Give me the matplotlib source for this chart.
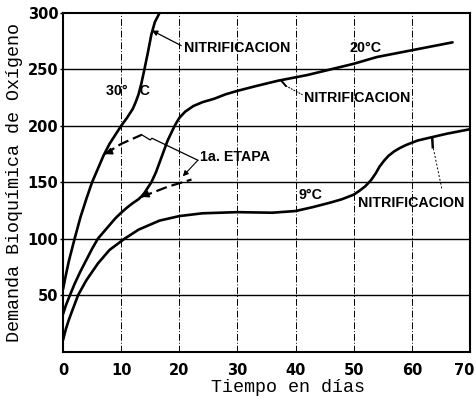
import matplotlib
matplotlib.use("Agg")
import matplotlib.pyplot as plt
from matplotlib.transforms import ScaledTranslation

# Oxygen demand curves (días, mg/l)
dias_30 = [0, 0.5, 1, 1.5, 2, 3, 4, 5, 6, 7, 8, 9, 10, 11, 12, 12.5, 13, 13.5, 14, 14.6, 15.2, 15.8, 16.6]
dbo_30 = [55, 68, 80, 90, 100, 119, 135, 150, 162, 174, 184, 192, 200, 207, 215, 221, 228, 238, 250,
          265, 281, 292, 300]

dias_20 = [0, 0.5, 1.2, 2, 3, 4, 5, 6, 7, 8, 9, 10, 11, 12, 13, 13.5, 14, 14.5, 15.2, 16, 17, 18,
           19.2, 20, 21, 22.4, 24, 26, 28, 30, 33, 37, 42, 46, 50, 54, 58, 62, 67]
dbo_20 = [33, 41, 50, 60, 71, 81, 91, 100, 106, 112, 118, 123, 127.5, 131.5, 135, 137.5, 140.5, 144.5,
          150, 159, 173, 187, 200, 207, 212.5, 217.5, 221, 224, 228, 231, 235, 240, 245, 250, 255,
          261, 265, 269, 274]

dias_9 = [0, 0.5, 1, 1.5, 2.6, 4, 6, 8, 10.6, 13, 16.6, 20, 24, 30, 36, 40, 43, 46, 48, 50, 51, 52,
          53, 53.8, 54.4, 55.2, 56, 57, 58, 59, 61, 63.5, 66, 70]
dbo_9 = [10, 20, 28, 35, 50, 63, 78, 90, 100, 108, 116, 120, 122.5, 123.5, 123, 124.5, 128, 132, 135,
         139, 142.5, 146.5, 152, 158, 163.5, 169, 173.5, 177.5, 180.5, 183, 187, 190, 193, 197]

# First-stage (carbonaceous) extrapolations
etapa1_30_x = [7.2, 10, 13.5]
etapa1_30_y = [175, 184, 192]
etapa1_20_x = [13.5, 18, 22.1]
etapa1_20_y = [137, 146, 152.4]

x_ticks = [0, 10, 20, 30, 40, 50, 60, 70]
y_ticks = [50, 100, 150, 200, 250, 300]

fig = plt.figure(figsize=(4.77, 4.04), dpi=100)
ax = fig.add_axes([63 / 477, 1 - 351.5 / 404, 407 / 477, 338.5 / 404])
ax.set_xlim(0, 70)
ax.set_ylim(0, 300)

# grid: solid horizontal, dash-dot vertical
for v in y_ticks[:-1]:
    ax.axhline(v, color="black", lw=1.0, zorder=1)
for d in x_ticks[1:-1]:
    ax.axvline(d, color="black", lw=0.7, ls=(0, (7, 2, 1, 2)), zorder=1)

lw = 1.9
for dx, dy in ((dias_30, dbo_30), (dias_20, dbo_20), (dias_9, dbo_9)):
    ax.plot(dx, dy, color="black", lw=lw, solid_capstyle="round", solid_joinstyle="round", zorder=3)

ax.plot(etapa1_30_x, etapa1_30_y, color="black", lw=1.6, ls=(0, (5, 2.2)), zorder=3)
ax.plot(etapa1_20_x, etapa1_20_y, color="black", lw=1.6, ls=(0, (5, 2.2)), zorder=3)
for ex, ey in ((etapa1_30_x, etapa1_30_y), (etapa1_20_x, etapa1_20_y)):
    ax.annotate("", xy=(ex[0], ey[0]), xytext=(ex[0] + 1.2, ey[0] + 2.6),
                arrowprops=dict(arrowstyle="-|>", color="black", lw=1.2,
                                mutation_scale=10, shrinkA=0, shrinkB=0))

lab = dict(family="Liberation Sans", fontweight="bold", fontsize=10.3, color="black")

# labels and leaders
ax.text(11.2, 230.5, "30°   C", ha="center", va="center", **lab)
ax.text(52.0, 268.6, "20°C", ha="center", va="center", **lab)
ax.text(42.5, 138.5, "9°C", ha="center", va="center", **lab)

ax.annotate("NITRIFICACION", xy=(15.3, 284.5), xytext=(20.8, 268.6), ha="left", va="center",
            arrowprops=dict(arrowstyle="-|>", color="black", lw=0.9, mutation_scale=8,
                            shrinkA=0, shrinkB=0, relpos=(0, 0.6)), **lab)

ax.text(41.4, 224.3, "NITRIFICACION", ha="left", va="center", **lab)
ax.plot([37.5, 38.3], [240.3, 235.5], color="black", lw=1.4)
ax.plot([38.3, 41.2], [235.5, 227.5], color="black", lw=0.7, ls=(0, (2, 1)))

ax.text(59.8, 131.2, "NITRIFICACION", ha="center", va="center", **lab)
ax.plot([63.5, 63.6], [189.5, 181], color="black", lw=1.8)
ax.plot([63.7, 65.2], [180, 143], color="black", lw=0.7, ls=(0, (2, 2)))

ax.text(23.5, 172, "1a. ETAPA", ha="left", va="center", **lab)
ax.plot([13.5, 15.0, 15.3, 23.2], [192.2, 187.5, 189, 169.5], color="black", lw=0.9)
ax.annotate("", xy=(20.6, 155.3), xytext=(23.2, 169.5),
            arrowprops=dict(arrowstyle="-|>", color="black", lw=0.8, mutation_scale=8,
                            shrinkA=0, shrinkB=0))

# axes styling
for s in ax.spines.values():
    s.set_linewidth(1.5)
ax.set_xticks(x_ticks)
ax.set_yticks(y_ticks)
tick_font = dict(family="DejaVu Sans", weight="bold", size=10.5)
ax.set_xticklabels([str(t) for t in x_ticks], fontdict=tick_font)
ax.set_yticklabels([str(t) for t in y_ticks], fontdict=tick_font)
ax.tick_params(axis="x", length=0, pad=8)
ax.tick_params(axis="y", length=2.5, width=1.0, pad=0.8)
# keep the last x label inside the figure
last = ax.get_xticklabels()[-1]
last.set_transform(last.get_transform() + ScaledTranslation(-6 / 100, 0, fig.dpi_scale_trans))

mono = dict(family="Liberation Mono", fontsize=13.2, color="black")
fig.text(288 / 477, 1 - 387 / 404, "Tiempo en días", ha="center", va="center", **mono)
fig.text(15 / 477, 1 - 182 / 404, "Demanda Bioquímica de Oxígeno", ha="center", va="center",
         rotation=90, **mono)

fig.savefig("out.png", dpi=100)
